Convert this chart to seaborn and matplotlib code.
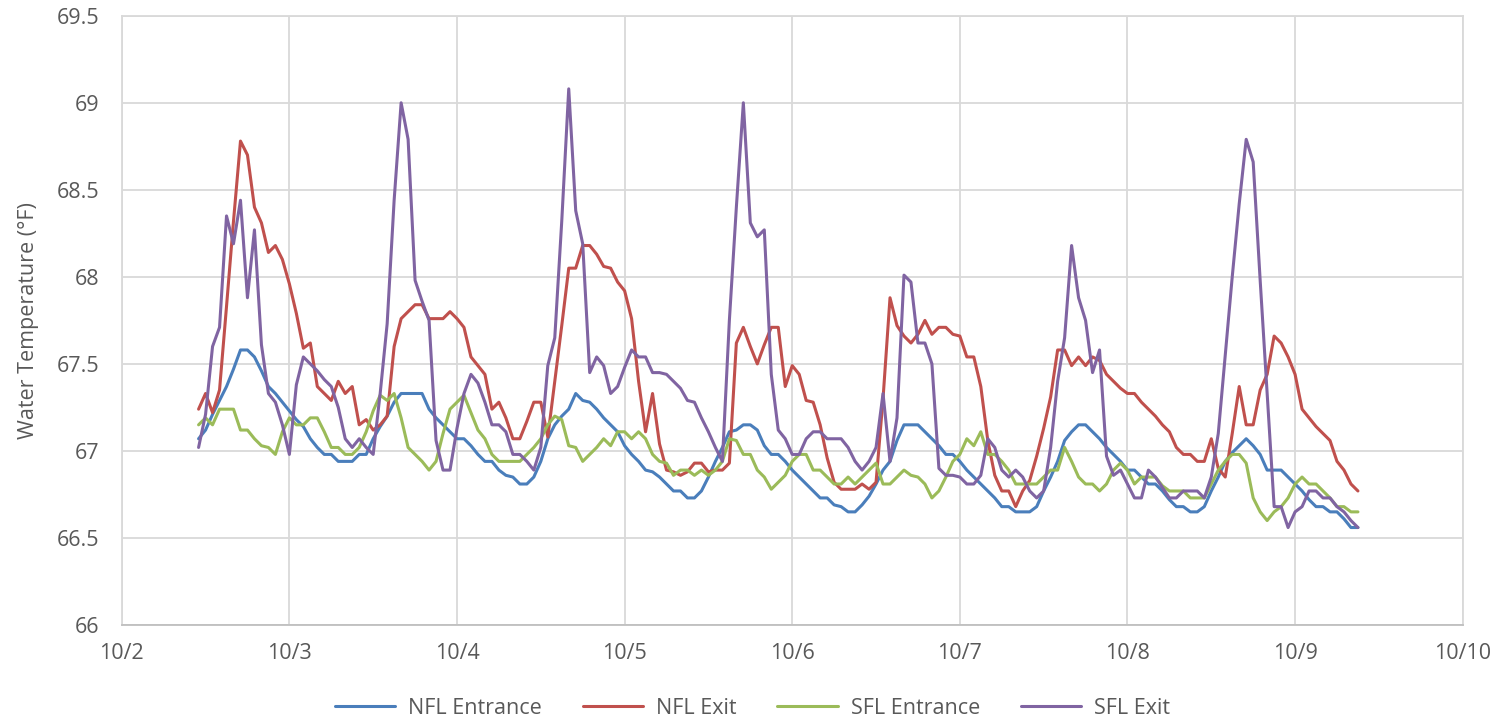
import numpy as np
import pandas as pd
import matplotlib
matplotlib.use("Agg")
import matplotlib.pyplot as plt
import matplotlib.dates as mdates
from matplotlib.ticker import FuncFormatter, MultipleLocator
import seaborn as sns

# hourly readings, 10/2 11:00 -> 10/9 09:00
start = "2019-10-02 11:00"
series_names = ["NFL Entrance", "NFL Exit", "SFL Entrance", "SFL Exit"]
series_colors = ["#4A7EBB", "#C0504D", "#9BBB59", "#8064A2"]

nfl_entrance = [
    67.07, 67.12, 67.21, 67.29, 67.37, 67.47, 67.58, 67.58, 67.54, 67.46,
    67.37, 67.33, 67.28, 67.23, 67.18, 67.14, 67.07, 67.02, 66.98, 66.98,
    66.94, 66.94, 66.94, 66.98, 66.98, 67.07, 67.14, 67.20, 67.28, 67.33,
    67.33, 67.33, 67.33, 67.24, 67.19, 67.15, 67.11, 67.07, 67.07, 67.03,
    66.98, 66.94, 66.94, 66.89, 66.86, 66.85, 66.81, 66.81, 66.85, 66.94,
    67.07, 67.15, 67.20, 67.24, 67.33, 67.29, 67.28, 67.24, 67.19, 67.15,
    67.11, 67.03, 66.98, 66.94, 66.89, 66.88, 66.85, 66.81, 66.77, 66.77,
    66.73, 66.73, 66.77, 66.85, 66.94, 67.02, 67.11, 67.12, 67.15, 67.15,
    67.12, 67.03, 66.98, 66.98, 66.94, 66.89, 66.85, 66.81, 66.77, 66.73,
    66.73, 66.69, 66.68, 66.65, 66.65, 66.69, 66.74, 66.81, 66.89, 66.94,
    67.06, 67.15, 67.15, 67.15, 67.11, 67.07, 67.03, 66.98, 66.98, 66.94,
    66.89, 66.85, 66.81, 66.77, 66.73, 66.68, 66.68, 66.65, 66.65, 66.65,
    66.68, 66.77, 66.85, 66.94, 67.06, 67.11, 67.15, 67.15, 67.11, 67.07,
    67.02, 66.98, 66.94, 66.89, 66.89, 66.85, 66.81, 66.81, 66.77, 66.72,
    66.68, 66.68, 66.65, 66.65, 66.68, 66.77, 66.85, 66.94, 66.99, 67.03,
    67.07, 67.03, 66.98, 66.89, 66.89, 66.89, 66.85, 66.81, 66.77, 66.72,
    66.68, 66.68, 66.65, 66.65, 66.61, 66.56, 66.56,
]

nfl_exit = [
    67.24, 67.33, 67.22, 67.35, 67.83, 68.32, 68.78, 68.70, 68.40, 68.31,
    68.14, 68.18, 68.10, 67.96, 67.79, 67.59, 67.62, 67.37, 67.33, 67.29,
    67.40, 67.33, 67.37, 67.15, 67.18, 67.12, 67.15, 67.20, 67.60, 67.76,
    67.80, 67.84, 67.84, 67.76, 67.76, 67.76, 67.80, 67.76, 67.71, 67.54,
    67.49, 67.44, 67.24, 67.28, 67.19, 67.07, 67.07, 67.17, 67.28, 67.28,
    67.08, 67.40, 67.72, 68.05, 68.05, 68.18, 68.18, 68.13, 68.06, 68.05,
    67.97, 67.92, 67.76, 67.40, 67.11, 67.33, 67.04, 66.89, 66.88, 66.86,
    66.88, 66.93, 66.93, 66.88, 66.89, 66.89, 66.93, 67.62, 67.71, 67.60,
    67.50, 67.61, 67.71, 67.71, 67.37, 67.49, 67.44, 67.29, 67.28, 67.15,
    66.96, 66.82, 66.78, 66.78, 66.78, 66.81, 66.78, 66.82, 67.30, 67.88,
    67.72, 67.66, 67.62, 67.67, 67.75, 67.67, 67.71, 67.71, 67.67, 67.66,
    67.54, 67.54, 67.37, 67.06, 66.86, 66.77, 66.77, 66.68, 66.77, 66.83,
    66.97, 67.13, 67.31, 67.58, 67.58, 67.49, 67.54, 67.49, 67.54, 67.52,
    67.44, 67.40, 67.36, 67.33, 67.33, 67.28, 67.24, 67.20, 67.15, 67.11,
    67.02, 66.98, 66.98, 66.94, 66.94, 67.07, 66.90, 66.85, 67.10, 67.37,
    67.15, 67.15, 67.35, 67.44, 67.66, 67.62, 67.54, 67.44, 67.24, 67.19,
    67.14, 67.10, 67.06, 66.94, 66.89, 66.81, 66.77,
]

sfl_entrance = [
    67.15, 67.19, 67.15, 67.24, 67.24, 67.24, 67.12, 67.12, 67.07, 67.03,
    67.02, 66.98, 67.11, 67.19, 67.15, 67.15, 67.19, 67.19, 67.11, 67.02,
    67.02, 66.98, 66.98, 67.02, 67.11, 67.23, 67.32, 67.29, 67.33, 67.19,
    67.02, 66.98, 66.94, 66.89, 66.94, 67.10, 67.24, 67.28, 67.32, 67.22,
    67.12, 67.07, 66.98, 66.94, 66.94, 66.94, 66.94, 66.98, 67.02, 67.07,
    67.15, 67.20, 67.18, 67.03, 67.02, 66.94, 66.98, 67.02, 67.07, 67.03,
    67.11, 67.11, 67.07, 67.11, 67.07, 66.98, 66.94, 66.93, 66.86, 66.89,
    66.89, 66.86, 66.89, 66.86, 66.89, 66.94, 67.07, 67.06, 66.98, 66.98,
    66.89, 66.85, 66.78, 66.82, 66.86, 66.94, 66.98, 66.98, 66.89, 66.89,
    66.85, 66.81, 66.81, 66.85, 66.81, 66.85, 66.89, 66.93, 66.81, 66.81,
    66.85, 66.89, 66.86, 66.85, 66.81, 66.73, 66.77, 66.85, 66.94, 66.98,
    67.07, 67.03, 67.11, 66.98, 66.98, 66.94, 66.89, 66.81, 66.81, 66.81,
    66.81, 66.85, 66.89, 66.89, 67.02, 66.94, 66.85, 66.81, 66.81, 66.77,
    66.81, 66.89, 66.93, 66.89, 66.81, 66.85, 66.85, 66.85, 66.80, 66.77,
    66.77, 66.77, 66.73, 66.73, 66.73, 66.81, 66.89, 66.94, 66.98, 66.98,
    66.93, 66.73, 66.65, 66.60, 66.65, 66.68, 66.73, 66.81, 66.85, 66.81,
    66.81, 66.77, 66.73, 66.68, 66.68, 66.65, 66.65,
]

sfl_exit = [
    67.02, 67.21, 67.60, 67.71, 68.35, 68.19, 68.44, 67.88, 68.27, 67.61,
    67.33, 67.28, 67.15, 66.98, 67.38, 67.54, 67.50, 67.46, 67.41, 67.37,
    67.25, 67.07, 67.02, 67.07, 67.02, 66.98, 67.33, 67.73, 68.44, 69.00,
    68.79, 67.98, 67.86, 67.75, 67.06, 66.89, 66.89, 67.13, 67.33, 67.44,
    67.39, 67.28, 67.15, 67.15, 67.11, 66.98, 66.98, 66.94, 66.89, 67.02,
    67.49, 67.65, 68.32, 69.08, 68.38, 68.19, 67.45, 67.54, 67.49, 67.33,
    67.37, 67.48, 67.58, 67.54, 67.54, 67.45, 67.45, 67.44, 67.40, 67.36,
    67.29, 67.28, 67.19, 67.11, 67.02, 66.94, 67.75, 68.40, 69.00, 68.31,
    68.23, 68.27, 67.44, 67.12, 67.07, 66.98, 66.98, 67.07, 67.11, 67.11,
    67.07, 67.07, 67.07, 67.02, 66.94, 66.89, 66.94, 67.02, 67.33, 66.94,
    67.19, 68.01, 67.97, 67.62, 67.62, 67.50, 66.90, 66.86, 66.86, 66.85,
    66.81, 66.81, 66.86, 67.07, 67.02, 66.89, 66.85, 66.89, 66.85, 66.77,
    66.73, 66.77, 67.02, 67.40, 67.65, 68.18, 67.88, 67.75, 67.45, 67.58,
    66.97, 66.86, 66.89, 66.81, 66.73, 66.73, 66.89, 66.85, 66.79, 66.73,
    66.73, 66.77, 66.77, 66.77, 66.73, 66.85, 67.10, 67.55, 68.00, 68.42,
    68.79, 68.66, 67.98, 67.33, 66.68, 66.68, 66.56, 66.65, 66.68, 66.77,
    66.77, 66.73, 66.73, 66.68, 66.65, 66.60, 66.56,
]

times = pd.date_range(start, periods=len(nfl_entrance), freq="h")
df = pd.DataFrame({
    "time": times,
    "NFL Entrance": nfl_entrance,
    "NFL Exit": nfl_exit,
    "SFL Entrance": sfl_entrance,
    "SFL Exit": sfl_exit,
})
long = df.melt(id_vars="time", var_name="series", value_name="temp")

sns.set_theme(style="white")
plt.rcParams["font.family"] = ["Open Sans", "DejaVu Sans"]
text_color = "#595959"
grid_color = "#D9D9D9"

fig = plt.figure(figsize=(15.05, 7.25), dpi=100)
ax = fig.add_axes([0.0809, 0.1379, 0.891, 0.8404])

sns.lineplot(data=long, x="time", y="temp", hue="series", hue_order=series_names,
             palette=dict(zip(series_names, series_colors)), estimator=None,
             linewidth=2.2, ax=ax)

ax.set_xlim(pd.Timestamp("2019-10-02"), pd.Timestamp("2019-10-10"))
ax.set_ylim(66, 69.5)
ax.xaxis.set_major_locator(mdates.DayLocator())
ax.xaxis.set_major_formatter(FuncFormatter(
    lambda v, p: f"{mdates.num2date(v).month}/{mdates.num2date(v).day}"))
ax.yaxis.set_major_locator(MultipleLocator(0.5))
ax.yaxis.set_major_formatter(FuncFormatter(lambda v, p: f"{v:g}"))

ax.grid(True, color=grid_color, linewidth=1.3)
for s in ax.spines.values():
    s.set_color(grid_color)
    s.set_linewidth(1.3)
ax.spines["bottom"].set_color("#BFBFBF")

ax.tick_params(axis="both", length=0, labelsize=15.5, labelcolor=text_color)
ax.tick_params(axis="x", pad=13)
ax.tick_params(axis="y", pad=16)

ax.set_xlabel("")
ax.set_ylabel("Water Temperature (°F)", fontsize=15.5, color=text_color)
ax.yaxis.set_label_coords(-0.062, 0.5)

handles, labels = ax.get_legend_handles_labels()
ax.get_legend().remove()
fig.legend(handles, labels, loc="center", bbox_to_anchor=(0.5, 17 / 725), ncol=4,
           frameon=False, fontsize=15.5, labelcolor=text_color, handlelength=2.8,
           handletextpad=0.6, columnspacing=1.9)

fig.savefig("out.png", dpi=100)
